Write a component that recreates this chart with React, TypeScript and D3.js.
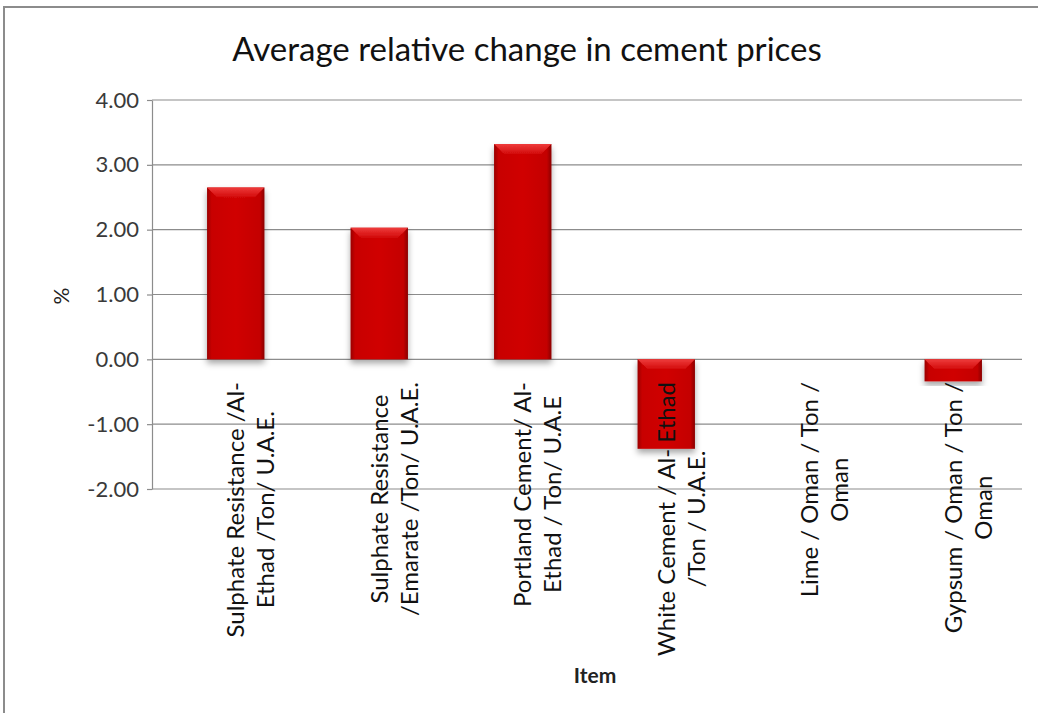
import React, { useEffect, useRef } from 'react';
import { select, scaleLinear, scaleBand, axisLeft, format } from 'd3';

const items = [
  'Sulphate Resistance /Al-|Ethad /Ton/ U.A.E.',
  'Sulphate Resistance|/Emarate /Ton/ U.A.E.',
  'Portland Cement/ Al-|Ethad / Ton/ U.A.E',
  'White Cement / Al- Ethad|/Ton / U.A.E.',
  'Lime / Oman / Ton /|Oman',
  'Gypsum / Oman / Ton /|Oman',
];
const changes = [2.65, 2.03, 3.32, -1.38, 0, -0.34];
const yTicks = [-2, -1, 0, 1, 2, 3, 4];
const title = 'Average relative change in cement prices';

const W = 1038;
const H = 713;
const font = 'Lato, "Open Sans", sans-serif';

const renderChart = (svgEl: SVGSVGElement) => {
  const svg = select(svgEl);
  svg.selectAll('*').remove();

  const plot = { left: 152, right: 1022, top: 100, bottom: 489 };

  const x = scaleBand<string>()
    .domain(items)
    .range([164, 1025])
    .paddingInner(0.6)
    .paddingOuter(0.3);

  const y = scaleLinear().domain([-2, 4]).range([plot.bottom, plot.top]);
  const fmt = format('.2f');

  const defs = svg.append('defs');
  const side = defs.append('linearGradient').attr('id', 'barSide').attr('x1', 0).attr('x2', 1).attr('y1', 0).attr('y2', 0);
  side.append('stop').attr('offset', '0%').attr('stop-color', '#9a0000');
  side.append('stop').attr('offset', '8%').attr('stop-color', '#c80000');
  side.append('stop').attr('offset', '50%').attr('stop-color', '#d00404');
  side.append('stop').attr('offset', '92%').attr('stop-color', '#c40000');
  side.append('stop').attr('offset', '100%').attr('stop-color', '#8a0000');
  const bevel = defs.append('linearGradient').attr('id', 'barTop').attr('x1', 0).attr('x2', 0).attr('y1', 0).attr('y2', 1);
  bevel.append('stop').attr('offset', '0%').attr('stop-color', '#ee3b3b');
  bevel.append('stop').attr('offset', '100%').attr('stop-color', '#d20a0a');
  const shadow = defs.append('filter').attr('id', 'shadow').attr('x', '-20%').attr('y', '-20%').attr('width', '140%').attr('height', '140%');
  shadow.append('feDropShadow').attr('dx', 0).attr('dy', 4).attr('stdDeviation', 3)
    .attr('flood-color', '#000').attr('flood-opacity', 0.35);

  // outer frame
  svg.append('path')
    .attr('d', `M4,${H} L4,7 L${W},7`)
    .attr('fill', 'none').attr('stroke', '#8c8c8c').attr('stroke-width', 2);

  svg.append('text')
    .attr('x', 527).attr('y', 61)
    .attr('text-anchor', 'middle')
    .attr('font-family', font).attr('font-size', 33)
    .attr('fill', '#111')
    .text(title);

  // grid
  svg.append('g').selectAll('line').data(yTicks).enter().append('line')
    .attr('x1', plot.left).attr('x2', plot.right)
    .attr('y1', d => y(d)).attr('y2', d => y(d))
    .attr('stroke', '#8c8c8c').attr('stroke-width', 1.2);

  const yAxis = svg.append('g')
    .attr('transform', `translate(${plot.left},0)`)
    .call(axisLeft(y).tickValues(yTicks).tickFormat(d => fmt(d as number).replace('\u2212', '-')).tickSize(5).tickSizeOuter(0).tickPadding(8));
  yAxis.select('.domain').attr('stroke', '#8c8c8c').attr('stroke-width', 1.2);
  yAxis.selectAll('.tick line').attr('stroke', '#8c8c8c').attr('stroke-width', 1.2);
  yAxis.selectAll('.tick text')
    .attr('font-family', font).attr('font-size', 22).attr('fill', '#3a3a3a');

  // bars
  const bars = svg.append('g').selectAll('g').data(items).enter().append('g')
    .attr('filter', 'url(#shadow)');
  bars.append('rect')
    .attr('x', d => x(d) as number)
    .attr('width', x.bandwidth())
    .attr('y', (d, i) => y(Math.max(0, changes[i])))
    .attr('height', (d, i) => Math.abs(y(changes[i]) - y(0)));
  bars.selectAll('rect').attr('fill', 'url(#barSide)');
  bars.append('path')
    .attr('d', (d, i) => {
      const h = Math.abs(y(changes[i]) - y(0));
      if (h < 1) return '';
      const x0 = x(d) as number;
      const x1 = x0 + x.bandwidth();
      const t = y(Math.max(0, changes[i]));
      const b = Math.min(10, h / 2);
      return `M${x0},${t} L${x1},${t} L${x1 - b},${t + b} L${x0 + b},${t + b} Z`;
    })
    .attr('fill', 'url(#barTop)');

  // category labels, rotated
  const labels = svg.append('g').selectAll('text').data(items).enter().append('text')
    .attr('font-family', font).attr('font-size', 24).attr('fill', '#111')
    .attr('text-anchor', 'middle');
  labels.each(function (d) {
    const lines = d.split('|');
    const t = select(this);
    lines.forEach((line, j) => {
      t.append('tspan').attr('x', 0).attr('dy', j === 0 ? '0.35em' : '1.25em').text(line);
    });
    const longest = Math.max(...(t.selectAll('tspan').nodes() as SVGTextContentElement[]).map(n => n.getComputedTextLength()));
    const cx = (x(d) as number) + x.bandwidth() / 2;
    const cy = 382 + longest / 2;
    t.attr('transform', `translate(${cx},${cy}) rotate(-90)`);
  });

  svg.append('text')
    .attr('transform', 'translate(62,296) rotate(-90)')
    .attr('text-anchor', 'middle').attr('dy', '0.35em')
    .attr('font-family', font).attr('font-size', 21).attr('fill', '#222')
    .text('%');

  svg.append('text')
    .attr('x', 595).attr('y', 683)
    .attr('text-anchor', 'middle')
    .attr('font-family', font).attr('font-size', 21).attr('font-weight', 'bold').attr('fill', '#222')
    .text('Item');
};

const App = () => {
  const ref = useRef<SVGSVGElement>(null);
  useEffect(() => {
    document.body.style.margin = '0';
    if (ref.current) renderChart(ref.current);
  }, []);
  return <svg ref={ref} width={W} height={H} style={{ display: 'block', background: '#fff' }} />;
};

export default App;
